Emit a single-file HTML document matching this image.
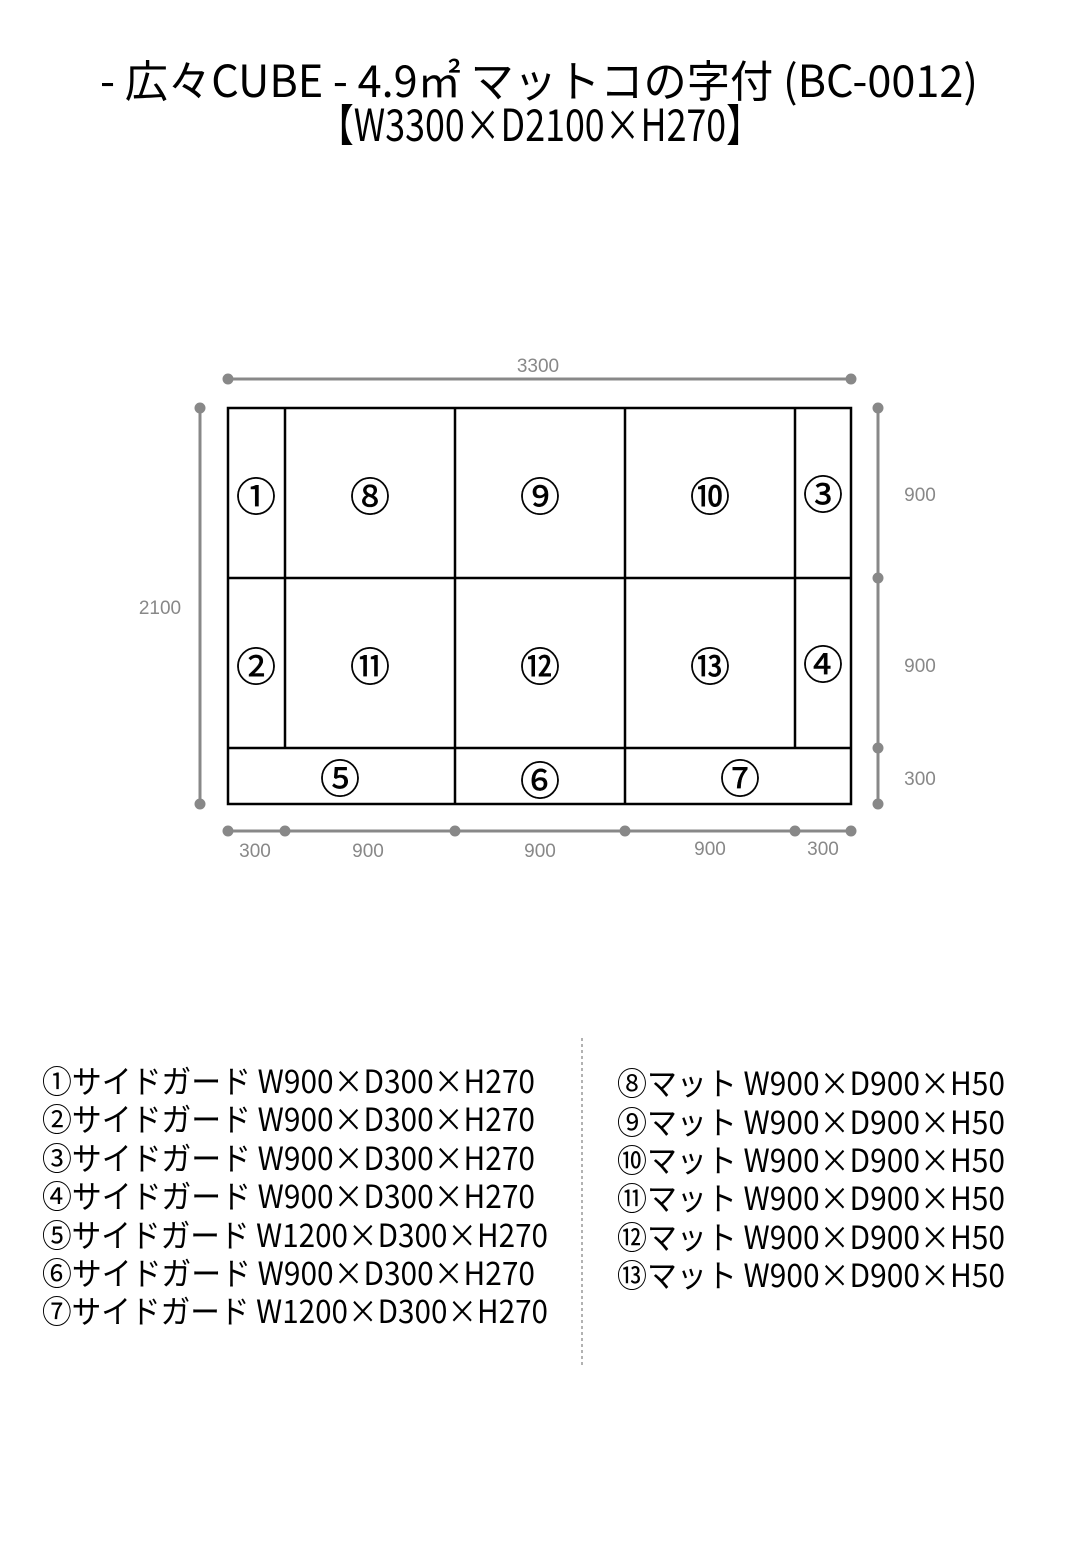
<!DOCTYPE html>
<html><head><meta charset="utf-8"><style>
html,body{margin:0;padding:0;background:#fff;}
svg{display:block;}
.t{font-family:"Noto Sans CJK JP","Liberation Sans",sans-serif;fill:#000;}
.d{font-family:"Liberation Sans",sans-serif;fill:#888;font-size:19px;text-anchor:middle;}
.n{font-family:"Noto Sans CJK JP",sans-serif;font-size:40px;text-anchor:middle;fill:#000;stroke:#000;stroke-width:0.5;}
</style></head><body>
<svg width="1080" height="1560" viewBox="0 0 1080 1560" xmlns="http://www.w3.org/2000/svg">
<text class="t" x="100" y="97" font-size="44" textLength="878" lengthAdjust="spacingAndGlyphs">- 広々CUBE - 4.9㎡ マットコの字付 (BC-0012)</text>
<text class="t" x="318" y="141" font-size="44" textLength="444" lengthAdjust="spacingAndGlyphs">【W3300×D2100×H270】</text>

<g stroke="#000" stroke-width="2.5" fill="none">
<rect x="228" y="408" width="623" height="396"/>
<line x1="285" y1="408" x2="285" y2="748"/>
<line x1="455" y1="408" x2="455" y2="804"/>
<line x1="625" y1="408" x2="625" y2="804"/>
<line x1="795" y1="408" x2="795" y2="748"/>
<line x1="228" y1="578" x2="851" y2="578"/>
<line x1="228" y1="748" x2="851" y2="748"/>
</g>
<text class="n" x="256" y="511">①</text>
<text class="n" x="370" y="511">⑧</text>
<text class="n" x="540" y="511">⑨</text>
<text class="n" x="710" y="511">⑩</text>
<text class="n" x="823" y="509">③</text>
<text class="n" x="256" y="681">②</text>
<text class="n" x="370" y="681">⑪</text>
<text class="n" x="540" y="681">⑫</text>
<text class="n" x="710" y="681">⑬</text>
<text class="n" x="823" y="679">④</text>
<text class="n" x="340" y="793">⑤</text>
<text class="n" x="540" y="795">⑥</text>
<text class="n" x="740" y="793">⑦</text>

<g stroke="#888" stroke-width="3" fill="#888">
<line x1="228" y1="379" x2="851" y2="379"/>
<circle cx="228" cy="379" r="4"/><circle cx="851" cy="379" r="4"/>
<line x1="200" y1="408" x2="200" y2="804"/>
<circle cx="200" cy="408" r="4"/><circle cx="200" cy="804" r="4"/>
<line x1="878" y1="408" x2="878" y2="804"/>
<circle cx="878" cy="408" r="4"/><circle cx="878" cy="578" r="4"/><circle cx="878" cy="748" r="4"/><circle cx="878" cy="804" r="4"/>
<line x1="228" y1="831" x2="851" y2="831"/>
<circle cx="228" cy="831" r="4"/><circle cx="285" cy="831" r="4"/><circle cx="455" cy="831" r="4"/><circle cx="625" cy="831" r="4"/><circle cx="795" cy="831" r="4"/><circle cx="851" cy="831" r="4"/>
</g>
<text class="d" x="538" y="372">3300</text>
<text class="d" x="160" y="614">2100</text>
<text class="d" x="920" y="501">900</text>
<text class="d" x="920" y="672">900</text>
<text class="d" x="920" y="785">300</text>
<text class="d" x="255" y="857">300</text>
<text class="d" x="368" y="857">900</text>
<text class="d" x="540" y="857">900</text>
<text class="d" x="710" y="855">900</text>
<text class="d" x="823" y="855">300</text>

<g class="t" font-size="32">
<text x="42" y="1093" textLength="493" lengthAdjust="spacingAndGlyphs">①サイドガード W900×D300×H270</text>
<text x="42" y="1131" textLength="493" lengthAdjust="spacingAndGlyphs">②サイドガード W900×D300×H270</text>
<text x="42" y="1170" textLength="493" lengthAdjust="spacingAndGlyphs">③サイドガード W900×D300×H270</text>
<text x="42" y="1208" textLength="493" lengthAdjust="spacingAndGlyphs">④サイドガード W900×D300×H270</text>
<text x="42" y="1247" textLength="506" lengthAdjust="spacingAndGlyphs">⑤サイドガード W1200×D300×H270</text>
<text x="42" y="1285" textLength="493" lengthAdjust="spacingAndGlyphs">⑥サイドガード W900×D300×H270</text>
<text x="42" y="1323" textLength="506" lengthAdjust="spacingAndGlyphs">⑦サイドガード W1200×D300×H270</text>
<text x="617" y="1095" textLength="388" lengthAdjust="spacingAndGlyphs">⑧マット W900×D900×H50</text>
<text x="617" y="1134" textLength="388" lengthAdjust="spacingAndGlyphs">⑨マット W900×D900×H50</text>
<text x="617" y="1172" textLength="388" lengthAdjust="spacingAndGlyphs">⑩マット W900×D900×H50</text>
<text x="617" y="1210" textLength="388" lengthAdjust="spacingAndGlyphs">⑪マット W900×D900×H50</text>
<text x="617" y="1249" textLength="388" lengthAdjust="spacingAndGlyphs">⑫マット W900×D900×H50</text>
<text x="617" y="1287" textLength="388" lengthAdjust="spacingAndGlyphs">⑬マット W900×D900×H50</text>
</g>
<line x1="582" y1="1038" x2="582" y2="1368" stroke="#666" stroke-width="1" stroke-dasharray="3,3"/>
</svg>
</body></html>
